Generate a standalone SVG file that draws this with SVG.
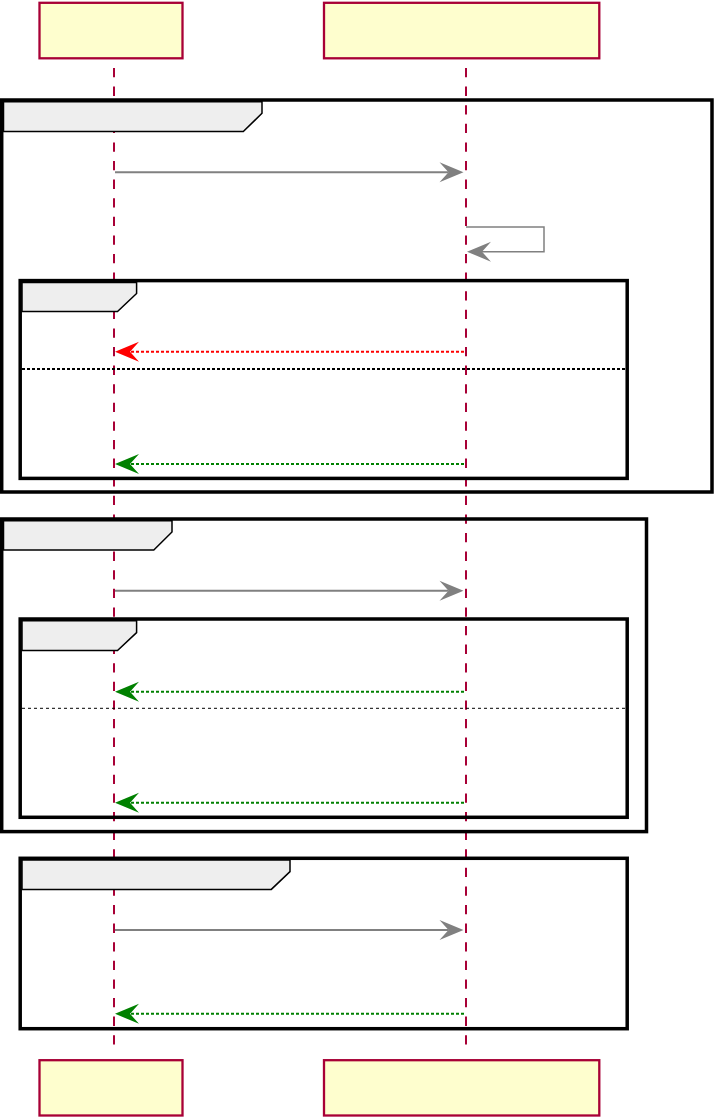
<svg xmlns="http://www.w3.org/2000/svg" width="715" height="1118" viewBox="0 0 715 1118">
<style>
.part{fill:#FEFECE;stroke:#A80036;stroke-width:2.3}
.life{stroke:#A80036;stroke-width:2;stroke-dasharray:9.3,9.3;fill:none}
.frame{fill:none;stroke:#000;stroke-width:3.5}
.tab{fill:#EEEEEE;stroke:#000;stroke-width:1.5}
.div1{stroke:#000;stroke-width:2;stroke-dasharray:3,2}
.div2{stroke:#000;stroke-width:1;stroke-dasharray:3,3}
.msg{fill:none;stroke:#808080;stroke-width:2}
.self{fill:none;stroke:#808080;stroke-width:1.5}
.red{fill:none;stroke:#FF0000;stroke-width:2;stroke-dasharray:3,2}
.green{fill:none;stroke:#008000;stroke-width:2;stroke-dasharray:3,2}
</style>
<defs>
<marker id="ag" markerUnits="userSpaceOnUse" markerWidth="26" markerHeight="22" viewBox="-10 -11 26 22" refX="0" refY="0" orient="auto" overflow="visible"><path d="M15,0 L-9,-10 L0,0 L-9,10 Z" fill="#808080"/></marker>
<marker id="ar" markerUnits="userSpaceOnUse" markerWidth="26" markerHeight="22" viewBox="-10 -11 26 22" refX="0" refY="0" orient="auto" overflow="visible"><path d="M15,0 L-9,-10 L0,0 L-9,10 Z" fill="#FF0000"/></marker>
<marker id="agr" markerUnits="userSpaceOnUse" markerWidth="26" markerHeight="22" viewBox="-10 -11 26 22" refX="0" refY="0" orient="auto" overflow="visible"><path d="M15,0 L-9,-10 L0,0 L-9,10 Z" fill="#008000"/></marker>
</defs>
<g id="lifelines">
<line class="life" x1="114" y1="68" x2="114" y2="1053"/>
<line class="life" x1="466" y1="68" x2="466" y2="1053"/>
</g>
<g id="participant-a-top"><rect class="part" x="39.5" y="2.8" width="143" height="55.5"/></g>
<g id="participant-b-top"><rect class="part" x="324" y="2.8" width="275.3" height="55.5"/></g>
<g id="participant-a-bottom"><rect class="part" x="39.5" y="1060.2" width="143" height="55.3"/></g>
<g id="participant-b-bottom"><rect class="part" x="324" y="1060.2" width="275.3" height="55.3"/></g>
<g id="group1">
<rect class="frame" x="1.7" y="100" width="710.3" height="392"/>
<polygon class="tab" points="3.5,101.8 262,101.8 262,113.3 243.3,131.5 3.5,131.5"/>
</g>
<g id="group1-alt">
<rect class="frame" x="20.2" y="280.6" width="607" height="197.8"/>
<polygon class="tab" points="22,282.4 136.6,282.4 136.6,293.5 117.5,311.5 22,311.5"/>
<line class="div1" x1="22" y1="369" x2="625.5" y2="369"/>
</g>
<g id="group2">
<rect class="frame" x="1.7" y="519" width="644.8" height="312.6"/>
<polygon class="tab" points="3.5,520.8 172,520.8 172,532 153.8,550 3.5,550"/>
</g>
<g id="group2-alt">
<rect class="frame" x="20.2" y="619" width="607" height="198.3"/>
<polygon class="tab" points="22,620.8 136.6,620.8 136.6,632.6 117.5,650.5 22,650.5"/>
<line class="div2" x1="22" y1="708.3" x2="625.5" y2="708.3"/>
</g>
<g id="group3">
<rect class="frame" x="20.2" y="858.3" width="607" height="170.4"/>
<polygon class="tab" points="22,860.1 290,860.1 290,871.6 271.3,889.4 22,889.4"/>
</g>
<g id="connectors">
<line class="msg" x1="115" y1="172.3" x2="448.5" y2="172.3" marker-end="url(#ag)"/>
<path class="self" d="M466,227 H544 V251.7 H482" marker-end="url(#ag)"/>
<line class="red" x1="464" y1="351.7" x2="130" y2="351.7" marker-end="url(#ar)"/>
<line class="green" x1="464" y1="464" x2="130" y2="464" marker-end="url(#agr)"/>
<line class="msg" x1="115" y1="590.8" x2="448.5" y2="590.8" marker-end="url(#ag)"/>
<line class="green" x1="464" y1="691.7" x2="130" y2="691.7" marker-end="url(#agr)"/>
<line class="green" x1="464" y1="802.7" x2="130" y2="802.7" marker-end="url(#agr)"/>
<line class="msg" x1="115" y1="930" x2="448.5" y2="930" marker-end="url(#ag)"/>
<line class="green" x1="464" y1="1013.8" x2="130" y2="1013.8" marker-end="url(#agr)"/>
</g>
</svg>
